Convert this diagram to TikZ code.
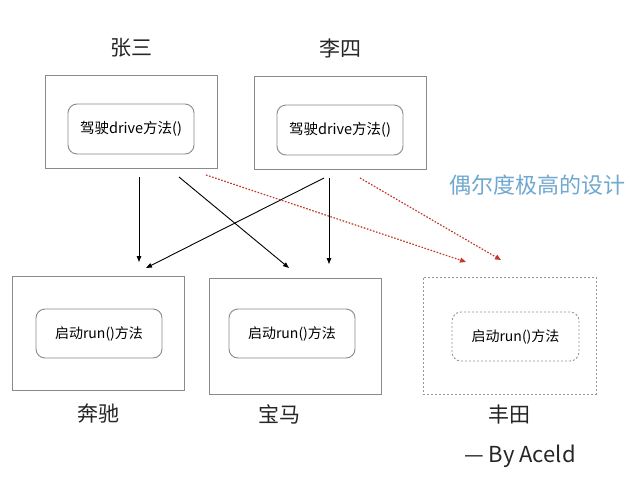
\documentclass[tikz,border=0pt]{standalone}
\usepackage{fontspec}
\setmainfont{Noto Sans CJK SC}
\usetikzlibrary{arrows.meta}
\definecolor{boxgray}{HTML}{8A8A8A}
\definecolor{dotgray}{HTML}{9A90A8}
\definecolor{dotred}{HTML}{C0392B}
\definecolor{noteblue}{HTML}{6FA8D0}
\tikzset{
  outerbox/.style={draw=boxgray, line width=0.9pt, minimum width=172pt, minimum height=93pt, inner sep=0pt},
  innerbox/.style={draw=boxgray, line width=0.9pt, rounded corners=9pt, minimum width=126pt, minimum height=50pt, inner sep=0pt},
  dotbox/.style={draw=dotgray, dash pattern=on 2pt off 2pt},
  lbl/.style={font=\fontsize{21}{24}\selectfont, text=black!85},
  conn/.style={-{Triangle[length=6pt,width=4.5pt]}, line width=0.9pt, black},
  redconn/.style={-{Triangle[length=6pt,width=5pt]}, line width=1.2pt, dotred, dash pattern=on 1.6pt off 1.6pt}
}
\begin{document}
\begin{tikzpicture}[x=1pt,y=-1pt]
\useasboundingbox[fill=white] (0,0) rectangle (640,480);
% top
\node[outerbox] (zhang) at (131,121.5) {};
\node[innerbox, font=\fontsize{14.5}{16}\selectfont] (zhangm) at (131,129) {驾驶drive方法()};
\node[outerbox] (li) at (340,122.5) {};
\node[innerbox, font=\fontsize{14.5}{16}\selectfont] (lim) at (340,130) {驾驶drive方法()};
\node[lbl] (zhangl) at (131,48) {张三};
\node[lbl] (lil) at (340,48) {李四};
% bottom
\node[outerbox, minimum height=114pt] (benz) at (98,333) {};
\node[innerbox, minimum height=49pt, font=\fontsize{14}{16}\selectfont] (benzm) at (99,333.5) {启动run()方法};
\node[outerbox, minimum height=116pt] (bmw) at (295,336) {};
\node[innerbox, minimum height=49pt, font=\fontsize{14}{16}\selectfont] (bmwm) at (292,333.5) {启动run()方法};
\node[outerbox, dotbox, minimum width=173pt, minimum height=117pt] (toyota) at (509.5,335.5) {};
\node[innerbox, dotbox, minimum width=127pt, minimum height=49pt, font=\fontsize{14}{16}\selectfont] (toyotam) at (515.5,336.5) {启动run()方法};
\node[lbl] (benzl) at (98,414) {奔驰};
\node[lbl] (bmwl) at (279,414) {宝马};
\node[lbl] (toyotal) at (509,414) {丰田};
\node[font=\fontsize{22}{24}\selectfont, text=noteblue] (note) at (537,185) {偶尔度极高的设计};
\node[font=\fontsize{22}{24}\selectfont, text=black!85] (by) at (520,456) {— By Aceld};
% connector endpoints
\coordinate (z1) at (139,177);
\coordinate (z2) at (179,177);
\coordinate (z3) at (206,175);
\coordinate (l1) at (324,178);
\coordinate (l2) at (329,178);
\coordinate (l3) at (360,178);
\coordinate (b1) at (139,262);
\coordinate (b2) at (146,268);
\coordinate (m1) at (289,268);
\coordinate (m2) at (329,264);
\coordinate (t1) at (466,262);
\coordinate (t2) at (501,260);
\draw[conn] (z1) -- (b1);
\draw[conn] (z2) -- (m1);
\draw[conn] (l1) -- (b2);
\draw[conn] (l2) -- (m2);
\draw[redconn] (z3) -- (t1);
\draw[redconn] (l3) -- (t2);
\end{tikzpicture}
\end{document}
